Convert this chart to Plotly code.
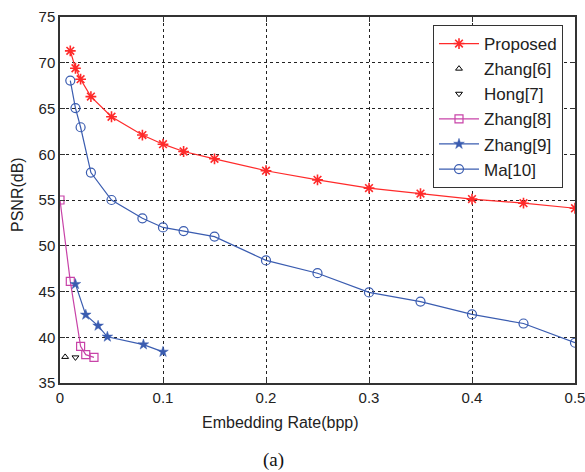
import plotly.graph_objects as go

prop_x = [0.01, 0.015, 0.02, 0.03, 0.05, 0.08, 0.1, 0.12, 0.15, 0.2, 0.25, 0.3, 0.35, 0.4, 0.45, 0.5]
prop_y = [71.3, 69.4, 68.2, 66.3, 64.1, 62.1, 61.1, 60.3, 59.5, 58.2, 57.2, 56.3, 55.7, 55.1, 54.65, 54.1]

zhang6_x = [0.005]
zhang6_y = [37.85]

hong7_x = [0.015]
hong7_y = [37.8]

zhang8_x = [0.0, 0.01, 0.02, 0.025, 0.033]
zhang8_y = [55.0, 46.1, 39.0, 38.1, 37.8]

zhang9_x = [0.015, 0.025, 0.037, 0.046, 0.081, 0.1]
zhang9_y = [45.8, 42.45, 41.25, 40.05, 39.2, 38.4]

ma_x = [0.01, 0.015, 0.02, 0.03, 0.05, 0.08, 0.1, 0.12, 0.15, 0.2, 0.25, 0.3, 0.35, 0.4, 0.45, 0.5]
ma_y = [68.05, 65.05, 62.95, 58.0, 55.0, 53.0, 52.0, 51.6, 51.0, 48.4, 47.0, 44.9, 43.9, 42.5, 41.5, 39.4]

x_ticks = [0, 0.1, 0.2, 0.3, 0.4, 0.5]
x_tick_labels = ["0", "0.1", "0.2", "0.3", "0.4", "0.5"]
y_ticks = [35, 40, 45, 50, 55, 60, 65, 70, 75]

RED = "#ff2a2a"
BLUE = "#3a5cb0"
MAG = "#c843a8"

fig = go.Figure()
fig.add_trace(go.Scatter(x=prop_x, y=prop_y, name="Proposed", mode="lines+markers",
                         line=dict(color=RED, width=1.2),
                         marker=dict(symbol="asterisk-open", size=9, color=RED,
                                     line=dict(color=RED, width=1.6))))
fig.add_trace(go.Scatter(x=zhang6_x, y=zhang6_y, name="Zhang[6]", mode="markers",
                         marker=dict(symbol="triangle-up-open", size=6, color="black",
                                     line=dict(color="black", width=1))))
fig.add_trace(go.Scatter(x=hong7_x, y=hong7_y, name="Hong[7]", mode="markers",
                         marker=dict(symbol="triangle-down-open", size=6, color="black",
                                     line=dict(color="black", width=1))))
fig.add_trace(go.Scatter(x=zhang8_x, y=zhang8_y, name="Zhang[8]", mode="lines+markers",
                         line=dict(color=MAG, width=1.2),
                         marker=dict(symbol="square-open", size=8, color=MAG,
                                     line=dict(color=MAG, width=1.2))))
fig.add_trace(go.Scatter(x=zhang9_x, y=zhang9_y, name="Zhang[9]", mode="lines+markers",
                         line=dict(color=BLUE, width=1.2),
                         marker=dict(symbol="star", size=8, color=BLUE,
                                     line=dict(color=BLUE, width=0.5))))
fig.add_trace(go.Scatter(x=ma_x, y=ma_y, name="Ma[10]", mode="lines+markers",
                         line=dict(color=BLUE, width=1.2),
                         marker=dict(symbol="circle-open", size=9, color=BLUE,
                                     line=dict(color=BLUE, width=1.2))))

axis_common = dict(
    showline=True, linecolor="#333333", linewidth=1.5, mirror="ticks",
    ticks="inside", ticklen=5, tickcolor="#333333",
    showgrid=True, gridcolor="#222222", griddash="dot", gridwidth=1,
    zeroline=False, automargin=False, ticklabeloverflow="allow",
    tickfont=dict(family="Liberation Sans", size=15, color="#222222"),
)

fig.update_xaxes(range=[0, 0.5], tickvals=x_ticks, ticktext=x_tick_labels, **axis_common)
fig.update_yaxes(range=[35, 75], tickvals=y_ticks, **axis_common)

plot_left, plot_right, plot_top, plot_bottom = 60, 575, 17, 383
W, H = plot_right - plot_left, plot_bottom - plot_top

def px_x(p):
    return (p - plot_left) / W

def px_y(p):
    return (plot_bottom - p) / H

fig.update_layout(
    width=585, height=472,
    margin=dict(l=plot_left, r=585 - plot_right, t=plot_top, b=472 - plot_bottom, autoexpand=False),
    plot_bgcolor="white", paper_bgcolor="white",
    font=dict(family="Liberation Sans", size=16, color="#222222"),
    legend=dict(x=px_x(433), y=px_y(25), xanchor="left", yanchor="top",
                bordercolor="#333333", borderwidth=1, bgcolor="white",
                itemwidth=40,
                font=dict(family="Liberation Sans", size=17, color="#222222"),
                tracegroupgap=0),
    annotations=[
        dict(text="Embedding Rate(bpp)", x=px_x(280), y=px_y(423), xref="paper", yref="paper",
             xanchor="center", yanchor="middle",
             showarrow=False, font=dict(size=16, family="Liberation Sans")),
        dict(text="PSNR(dB)", x=px_x(17), y=px_y(195), xref="paper", yref="paper",
             xanchor="center", yanchor="middle",
             showarrow=False, textangle=-90, font=dict(size=16, family="Liberation Sans")),
        dict(text="(a)", x=px_x(273), y=px_y(460), xref="paper", yref="paper",
             xanchor="center", yanchor="middle",
             showarrow=False, font=dict(size=19, family="Liberation Serif", color="#111111")),
    ],
)

fig.write_html("out.html")
